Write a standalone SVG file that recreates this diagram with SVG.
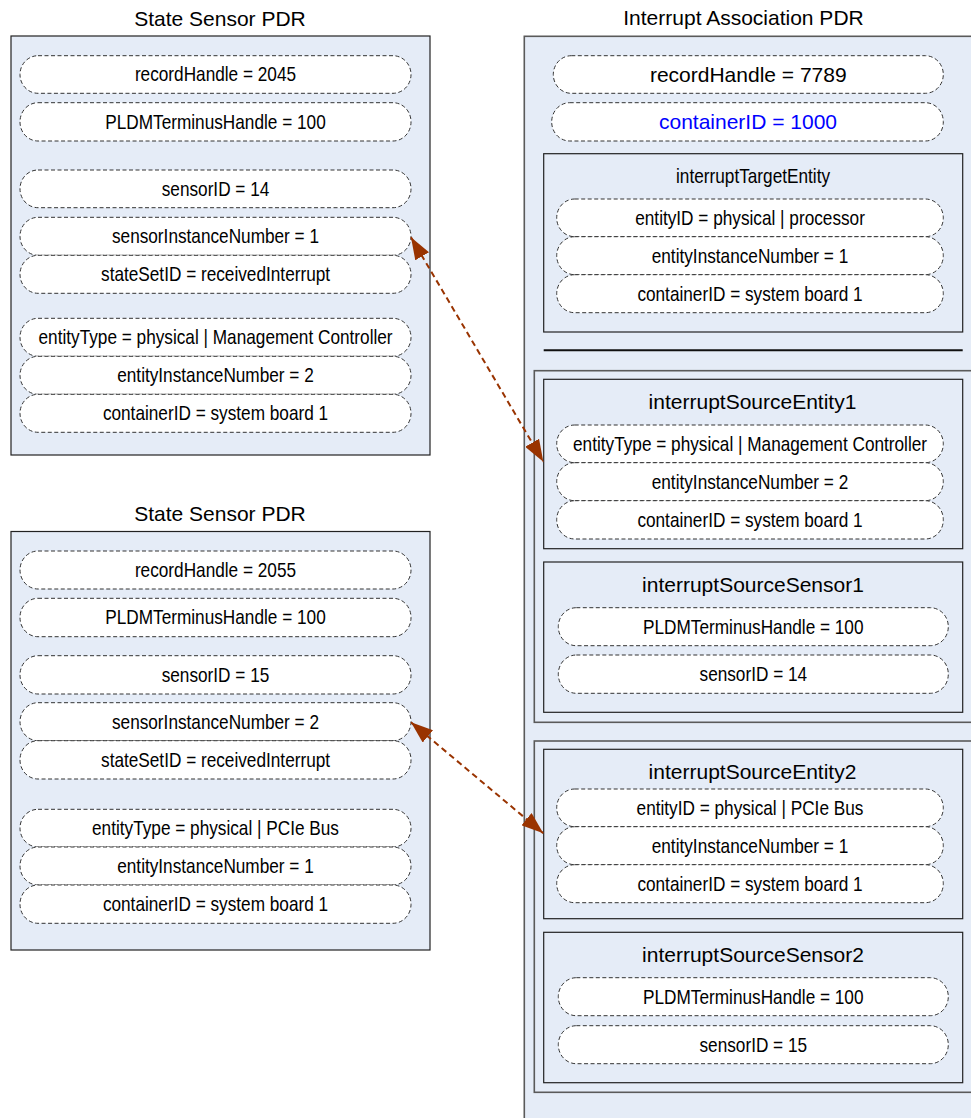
<svg xmlns="http://www.w3.org/2000/svg" width="971" height="1118" viewBox="0 0 971 1118">
  <style>
    .panel { fill: #E5ECF7; stroke: #222; stroke-width: 1.2; }
    .outer { fill: #E5ECF7; stroke: #5a5a5a; stroke-width: 1.6; }
    .field { fill: #FFFFFF; stroke: #333; stroke-width: 1; stroke-dasharray: 4 2.5; }
    .title { font-family: "Liberation Sans", Arial, sans-serif; font-size: 21px; fill: #000; text-anchor: middle; }
    .wide { font-family: "Liberation Sans", Arial, sans-serif; font-size: 21px; fill: #000; text-anchor: middle; }
    /* condensed labels: regular face squeezed horizontally about its own centre */
    .narrow { font-family: "Liberation Sans", Arial, sans-serif; font-size: 21px; fill: #000; text-anchor: middle;
              transform-box: fill-box; transform-origin: center; transform: scaleX(0.82); }
    .blue { fill: #0000FF; }
    .link { fill: none; stroke: #993300; stroke-width: 2; stroke-dasharray: 6 4; }
  </style>
  <defs>
    <marker id="head" markerUnits="userSpaceOnUse" viewBox="0 0 22 16" refX="22" refY="8" markerWidth="22" markerHeight="16" orient="auto-start-reverse">
      <path d="M0,0 L22,8 L0,16 z" fill="#993300"/>
    </marker>
  </defs>

  <rect width="971" height="1118" fill="#FFFFFF"/>

  <!-- State Sensor PDR, record 2045 -->
  <g id="sensor-pdr-2045">
    <text class="title" x="220" y="26">State Sensor PDR</text>
    <rect class="panel" x="11" y="36" width="419" height="419"/>
    <rect class="field" x="20" y="55.7" width="391" height="37.6" rx="18" ry="18.8"/>
    <text class="narrow" x="215.5" y="81.5">recordHandle = 2045</text>
    <rect class="field" x="20" y="102.7" width="391" height="38.3" rx="18" ry="19"/>
    <text class="narrow" x="215.5" y="128.8">PLDMTerminusHandle = 100</text>
    <rect class="field" x="20" y="170" width="391" height="37.7" rx="18" ry="18.8"/>
    <text class="narrow" x="215.5" y="195.8">sensorID = 14</text>
    <rect class="field" x="20" y="217.3" width="391" height="38" rx="18" ry="19"/>
    <text class="narrow" x="215.5" y="243.3">sensorInstanceNumber = 1</text>
    <rect class="field" x="20" y="255.3" width="391" height="38" rx="18" ry="19"/>
    <text class="narrow" x="215.5" y="281.3">stateSetID = receivedInterrupt</text>
    <rect class="field" x="20" y="318.3" width="391" height="38" rx="18" ry="19"/>
    <text class="narrow" x="215.5" y="344.3">entityType = physical | Management Controller</text>
    <rect class="field" x="20" y="356.3" width="391" height="38" rx="18" ry="19"/>
    <text class="narrow" x="215.5" y="382.3">entityInstanceNumber = 2</text>
    <rect class="field" x="20" y="394.3" width="391" height="38" rx="18" ry="19"/>
    <text class="narrow" x="215.5" y="420.3">containerID = system board 1</text>
  </g>

  <!-- State Sensor PDR, record 2055 -->
  <g id="sensor-pdr-2055">
    <text class="title" x="220" y="520.7">State Sensor PDR</text>
    <rect class="panel" x="11" y="531.5" width="419" height="418.5"/>
    <rect class="field" x="20" y="551" width="391" height="38" rx="18" ry="19"/>
    <text class="narrow" x="215.5" y="577">recordHandle = 2055</text>
    <rect class="field" x="20" y="598.3" width="391" height="38.4" rx="18" ry="19"/>
    <text class="narrow" x="215.5" y="624.5">PLDMTerminusHandle = 100</text>
    <rect class="field" x="20" y="655.7" width="391" height="38.3" rx="18" ry="19"/>
    <text class="narrow" x="215.5" y="681.8">sensorID = 15</text>
    <rect class="field" x="20" y="702.7" width="391" height="38" rx="18" ry="19"/>
    <text class="narrow" x="215.5" y="728.7">sensorInstanceNumber = 2</text>
    <rect class="field" x="20" y="740.7" width="391" height="38.3" rx="18" ry="19"/>
    <text class="narrow" x="215.5" y="766.8">stateSetID = receivedInterrupt</text>
    <rect class="field" x="20" y="809.3" width="391" height="37.7" rx="18" ry="18.8"/>
    <text class="narrow" x="215.5" y="835.2">entityType = physical | PCIe Bus</text>
    <rect class="field" x="20" y="847" width="391" height="38" rx="18" ry="19"/>
    <text class="narrow" x="215.5" y="873">entityInstanceNumber = 1</text>
    <rect class="field" x="20" y="885" width="391" height="38.3" rx="18" ry="19"/>
    <text class="narrow" x="215.5" y="911.2">containerID = system board 1</text>
  </g>

  <!-- Interrupt Association PDR -->
  <g id="interrupt-association-pdr">
    <text class="title" x="743.5" y="24.5">Interrupt Association PDR</text>
    <rect class="outer" x="524.3" y="36.3" width="470" height="1100"/>
    <rect class="field" x="553.3" y="55.7" width="390" height="37.6" rx="18" ry="18.8"/>
    <text class="wide" x="748.3" y="81.5">recordHandle = 7789</text>
    <rect class="field" x="551.7" y="102.7" width="391.6" height="38.3" rx="18" ry="19"/>
    <text class="wide blue" x="748" y="128.8">containerID = 1000</text>
  </g>

  <g id="interrupt-target-entity">
    <rect class="panel" x="543.7" y="153.7" width="419" height="178.3"/>
    <text class="narrow" x="753" y="183">interruptTargetEntity</text>
    <rect class="field" x="556.7" y="199" width="386.6" height="37.7" rx="18" ry="18.8"/>
    <text class="narrow" x="750" y="224.8">entityID = physical | processor</text>
    <rect class="field" x="556.7" y="236.7" width="386.6" height="38" rx="18" ry="19"/>
    <text class="narrow" x="750" y="262.7">entityInstanceNumber = 1</text>
    <rect class="field" x="556.7" y="274.7" width="386.6" height="38" rx="18" ry="19"/>
    <text class="narrow" x="750" y="300.7">containerID = system board 1</text>
  </g>

  <line id="separator" x1="543.7" y1="350.3" x2="962.7" y2="350.3" stroke="#111" stroke-width="2"/>

  <!-- first interrupt source -->
  <g id="interrupt-source-1">
    <rect class="outer" x="534.3" y="370.7" width="460" height="351.6"/>
    <g id="interrupt-source-entity-1">
      <rect class="panel" x="543.7" y="379.3" width="419" height="169.4"/>
      <text class="wide" x="752.5" y="409.3">interruptSourceEntity1</text>
      <rect class="field" x="556.7" y="425" width="386.6" height="37.7" rx="18" ry="18.8"/>
      <text class="narrow" x="750" y="450.8">entityType = physical | Management Controller</text>
      <rect class="field" x="556.7" y="462.7" width="386.6" height="38" rx="18" ry="19"/>
      <text class="narrow" x="750" y="488.7">entityInstanceNumber = 2</text>
      <rect class="field" x="556.7" y="500.7" width="386.6" height="38.3" rx="18" ry="19"/>
      <text class="narrow" x="750" y="526.8">containerID = system board 1</text>
    </g>
    <g id="interrupt-source-sensor-1">
      <rect class="panel" x="543.7" y="562" width="419" height="150.3"/>
      <text class="wide" x="753" y="592.3">interruptSourceSensor1</text>
      <rect class="field" x="558.3" y="607.7" width="390" height="38" rx="18" ry="19"/>
      <text class="narrow" x="753.3" y="633.7">PLDMTerminusHandle = 100</text>
      <rect class="field" x="558.3" y="655" width="390" height="38.3" rx="18" ry="19"/>
      <text class="narrow" x="753.3" y="681.2">sensorID = 14</text>
    </g>
  </g>

  <!-- second interrupt source -->
  <g id="interrupt-source-2">
    <rect class="outer" x="534.3" y="741" width="460" height="351.3"/>
    <g id="interrupt-source-entity-2">
      <rect class="panel" x="543.7" y="749.3" width="419" height="169.4"/>
      <text class="wide" x="752.5" y="779.3">interruptSourceEntity2</text>
      <rect class="field" x="556.7" y="789" width="386.6" height="37.7" rx="18" ry="18.8"/>
      <text class="narrow" x="750" y="814.8">entityID = physical | PCIe Bus</text>
      <rect class="field" x="556.7" y="826.7" width="386.6" height="38" rx="18" ry="19"/>
      <text class="narrow" x="750" y="852.7">entityInstanceNumber = 1</text>
      <rect class="field" x="556.7" y="864.7" width="386.6" height="38" rx="18" ry="19"/>
      <text class="narrow" x="750" y="890.7">containerID = system board 1</text>
    </g>
    <g id="interrupt-source-sensor-2">
      <rect class="panel" x="543.7" y="932.3" width="419" height="150.4"/>
      <text class="wide" x="753" y="962.3">interruptSourceSensor2</text>
      <rect class="field" x="558.3" y="977.7" width="390" height="38" rx="18" ry="19"/>
      <text class="narrow" x="753.3" y="1003.7">PLDMTerminusHandle = 100</text>
      <rect class="field" x="558.3" y="1025.7" width="390" height="38" rx="18" ry="19"/>
      <text class="narrow" x="753.3" y="1051.7">sensorID = 15</text>
    </g>
  </g>

  <!-- sensor-to-source associations -->
  <g id="connectors">
    <line class="link" x1="411" y1="237.3" x2="543.3" y2="461.7" marker-start="url(#head)" marker-end="url(#head)"/>
    <line class="link" x1="411" y1="722.3" x2="543.3" y2="833.3" marker-start="url(#head)" marker-end="url(#head)"/>
  </g>
</svg>
